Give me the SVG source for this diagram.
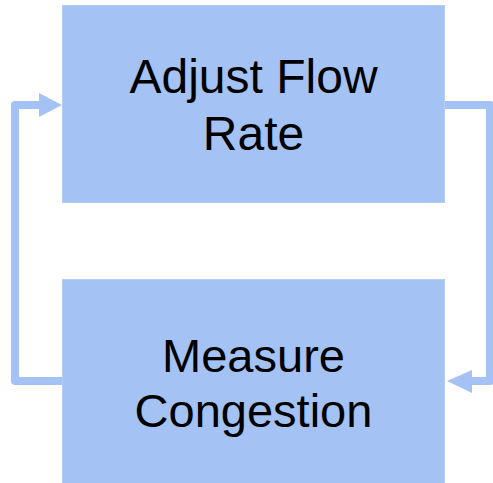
<svg xmlns="http://www.w3.org/2000/svg" width="493" height="483" viewBox="0 0 493 483">
<style>
.box{fill:#a4c2f4;stroke:#b4cdf6;stroke-width:1}
.lbl{font-family:"Liberation Sans",Arial,sans-serif;fill:#000;text-anchor:middle}
.conn{fill:none;stroke:#a4c2f4;stroke-width:8;stroke-linejoin:round}
.head{fill:#a4c2f4}
</style>
<rect width="493" height="483" fill="#fff"/>
<g id="connectors">
<path class="conn" d="M62,381 H15 V105 H40"/>
<polygon class="head" points="62,105 39,93 39,117"/>
<path class="conn" d="M445,105 H490 V381 H470"/>
<polygon class="head" points="447,381 472,370 472,393"/>
</g>
<g id="adjust">
<rect class="box" x="62.5" y="5.5" width="382" height="197"/>
<text class="lbl" font-size="48" x="253.5" y="93">Adjust Flow</text>
<text class="lbl" font-size="48" x="253.5" y="150">Rate</text>
</g>
<g id="measure">
<rect class="box" x="62.5" y="279.5" width="382" height="210"/>
<text class="lbl" font-size="47" x="253.5" y="372">Measure</text>
<text class="lbl" font-size="47" x="253.5" y="427">Congestion</text>
</g>
</svg>
